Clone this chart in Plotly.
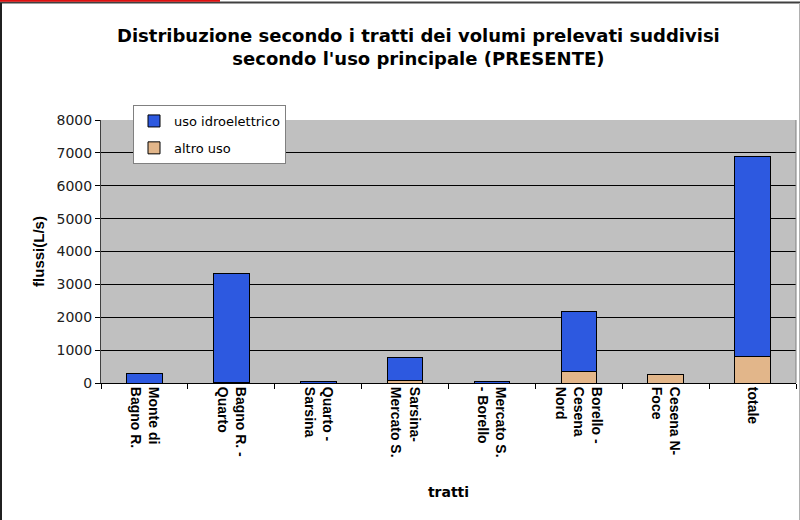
import plotly.graph_objects as go

# tratti del fiume (etichette asse x)
tratti = ["Monte di<br>Bagno R.", "Bagno R. -<br>Quarto", "Quarto -<br>Sarsina",
          "Sarsina-<br>Mercato S.", "Mercato S.<br>- Borello",
          "Borello -<br>Cesena<br>Nord", "Cesena N-<br>Foce", "totale"]

# flussi (L/s)
altro_uso = [0, 20, 0, 80, 0, 350, 260, 800]
uso_idro = [300, 3300, 40, 700, 40, 1820, 0, 6080]

y_ticks = [0, 1000, 2000, 3000, 4000, 5000, 6000, 7000, 8000]

W, H = 800, 520
ML, MR, MT, MB = 101, 4, 120, 137


def px_x(p):
    # pixel orizzontale -> coordinata paper
    return (p - ML) / (W - ML - MR)


def px_y(p):
    # pixel verticale -> coordinata paper
    return (H - MB - p) / (H - MT - MB)


fig = go.Figure()

fig.add_trace(go.Bar(x=tratti, y=altro_uso, name="altro uso",
                     legendgroup="a", legendrank=2,
                     marker=dict(color="#E2B68A", line=dict(color="black", width=1))))
fig.add_trace(go.Bar(x=tratti, y=uso_idro, name="uso idroelettrico",
                     legendgroup="b", legendrank=1,
                     marker=dict(color="#2D59E0", line=dict(color="black", width=1))))

fig.update_layout(
    width=W, height=H,
    margin=dict(l=ML, r=MR, t=MT, b=MB),
    barmode="stack",
    bargap=0.59,
    paper_bgcolor="white",
    plot_bgcolor="#C0C0C0",
    font=dict(family="Liberation Sans, Arial, sans-serif", color="black"),
    title=dict(text="<b>Distribuzione secondo i tratti dei volumi prelevati suddivisi<br>"
                    "secondo l'uso principale (PRESENTE)</b>",
               x=0.523, xanchor="center", y=1 - 42 / H, yanchor="top",
               font=dict(family="DejaVu Sans, sans-serif", size=18)),
    legend=dict(x=px_x(133), y=px_y(105), xanchor="left", yanchor="top",
                traceorder="grouped", tracegroupgap=7,
                bgcolor="white", bordercolor="#808080", borderwidth=1,
                font=dict(family="DejaVu Sans, sans-serif", size=13)),
    showlegend=True,
)

fig.update_yaxes(
    range=[0, 8000], tickvals=y_ticks,
    showgrid=True, gridcolor="black", gridwidth=1,
    ticks="outside", ticklen=5, tickcolor="black",
    showline=True, linecolor="#404040", linewidth=1,
    tickfont=dict(family="DejaVu Sans, sans-serif", size=14, color="#202020"),
    title=dict(text="<b>flussi(L/s)</b>", font=dict(size=15), standoff=8),
    zeroline=False,
)

fig.update_xaxes(
    tickangle=90,
    ticks="outside", ticklen=5, tickcolor="black", tickson="boundaries",
    showline=True, linecolor="black", linewidth=1,
    tickfont=dict(size=14),
    tickprefix="<b>", ticksuffix="</b>",
    title=dict(text="<b>tratti</b>", font=dict(family="DejaVu Sans, sans-serif", size=14),
               standoff=30),
    showgrid=False,
)

# bordo destro dell'area del grafico
fig.add_shape(type="line", xref="paper", yref="paper", x0=1, x1=1, y0=0, y1=1,
              line=dict(color="#808080", width=1))

# cornice esterna del grafico
fig.add_shape(type="line", xref="paper", yref="paper",
              x0=px_x(0), x1=px_x(800), y0=px_y(2.5), y1=px_y(2.5),
              line=dict(color="#404040", width=2))
fig.add_shape(type="line", xref="paper", yref="paper",
              x0=px_x(0), x1=px_x(220), y0=px_y(0.8), y1=px_y(0.8),
              line=dict(color="#E01010", width=2))
fig.add_shape(type="line", xref="paper", yref="paper",
              x0=px_x(1), x1=px_x(1), y0=px_y(3), y1=px_y(520),
              line=dict(color="#202020", width=2))
fig.add_shape(type="line", xref="paper", yref="paper",
              x0=px_x(799.5), x1=px_x(799.5), y0=px_y(3), y1=px_y(520),
              line=dict(color="#B0B0B0", width=1))

# niente margine del body, così il grafico parte da (0, 0)
fig.write_html("out.html", config={"displayModeBar": False},
               post_script="document.body.style.margin='0px';")
